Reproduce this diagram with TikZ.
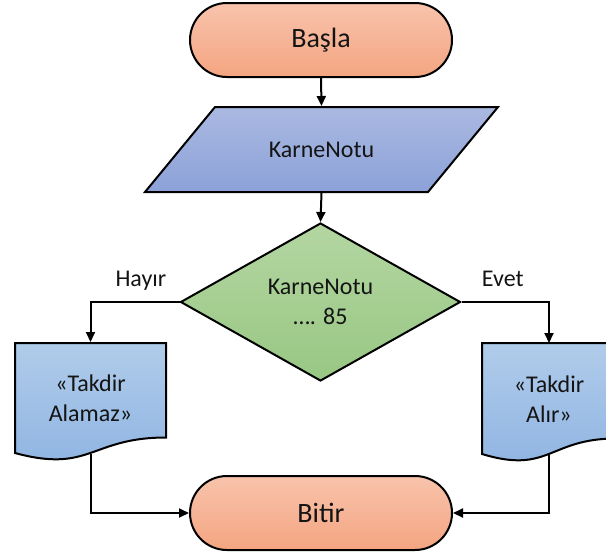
\documentclass[tikz,border=0pt]{standalone}
\usepackage{fontspec}
\setmainfont{Carlito}
\usetikzlibrary{shapes.geometric,shapes.misc,arrows.meta}

\definecolor{termTop}{HTML}{F8C3AC}
\definecolor{termBot}{HTML}{F4A581}
\definecolor{inTop}{HTML}{AAB9E1}
\definecolor{inBot}{HTML}{8BA1D8}
\definecolor{decTop}{HTML}{B4D6A2}
\definecolor{decBot}{HTML}{98C783}
\definecolor{docTop}{HTML}{B0CCEA}
\definecolor{docBot}{HTML}{8EB3E2}

\tikzset{every picture/.style={line width=2pt}}
\tikzset{
	terminal/.style={rounded rectangle,draw,top color=termTop,bottom color=termBot,minimum width=262pt,minimum height=74pt,inner sep=0pt,font=\fontsize{28}{34}\selectfont},
	inputbox/.style={rectangle,minimum width=283pt,minimum height=85pt,inner sep=0pt},
	decision/.style={diamond,draw,top color=decTop,bottom color=decBot,minimum width=280pt,minimum height=158pt,inner sep=0pt,align=center},
	docbox/.style={rectangle,minimum width=151pt,minimum height=110pt,inner sep=0pt,align=center},
	arr/.style={-{Triangle[length=10pt,width=9pt]}},
	cond/.style={anchor=base,yshift=16pt}
}

\begin{document}
\begin{tikzpicture}[x=1pt,y=-1pt,font=\fontsize{24}{30}\selectfont,text=black!92]
	\useasboundingbox (0,0) rectangle (606,555);

	% paralelkenar ve belge sekilleri
	\draw [top color=inTop,bottom color=inBot] (145,192) -- (428,192) -- (498,107) -- (215,107) -- cycle;
	\draw [top color=docTop,bottom color=docBot] (15,343) -- (166,343) -- (166,437.5)
		.. controls (90.5,437.5) and (90.5,473.5) .. (15,453) -- cycle;
	\draw [top color=docTop,bottom color=docBot] (482,343) -- (616,343) -- (616,438.5)
		.. controls (549,438.5) and (549,474.5) .. (482,454) -- cycle;

	\node [terminal](basla) at (321,40) {Başla};
	\node [inputbox](notu) at (321.5,149.5) {KarneNotu};
	\node [decision](kosul) at (320.5,302) {KarneNotu\\…. 85};
	\node [docbox](alamaz) at (90.5,398) {«Takdir\\Alamaz»};
	\node [docbox,minimum width=134pt](alir) at (549,399) {«Takdir\\Alır»};
	\node [terminal](bitir) at (321,513) {Bitir};

	\draw [arr] (basla.south) -- (notu.north);
	\draw [arr] (notu.south) -- (kosul.north);
	\draw [arr] (kosul.west) -| node [cond,pos=0.217] {Hayır} (alamaz.north);
	\draw [arr] (kosul.east) -| node [cond,pos=0.236] {Evet} (alir.north);
	\draw [arr] (alamaz.south) |- (bitir.west);
	\draw [arr] (alir.south) |- (bitir.east);
\end{tikzpicture}
\end{document}
